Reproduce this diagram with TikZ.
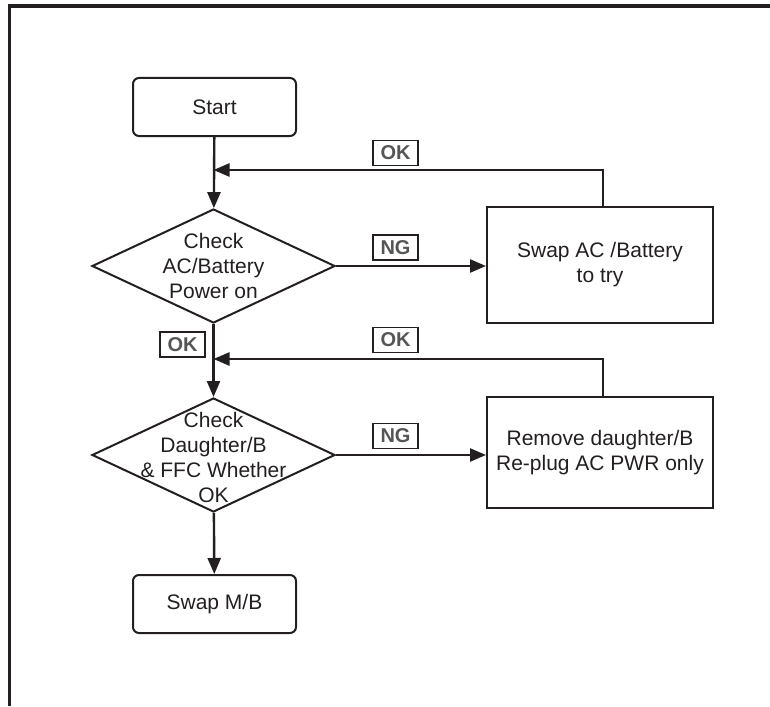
\documentclass[tikz,border=0pt]{standalone}
\usepackage{fontspec}
\setmainfont{Liberation Sans}
\usetikzlibrary{shapes.geometric,arrows.meta}

\definecolor{ink}{HTML}{231F20}
\definecolor{tagtext}{HTML}{555555}

\begin{document}
\begin{tikzpicture}[x=1pt, y=-1pt,
  every node/.style={font=\fontsize{21}{25}\selectfont, text=ink},
  term/.style={draw=ink, line width=2pt, rounded corners=6pt, minimum width=163pt, minimum height=58pt},
  proc/.style={draw=ink, line width=2pt, minimum width=226pt, align=center},
  decide/.style={diamond, draw=ink, line width=2pt, minimum width=243pt, minimum height=114pt, inner sep=0pt},
  tag/.style={draw=ink, line width=1.8pt, inner sep=0pt, minimum width=45pt, minimum height=25pt, font=\fontsize{20}{20}\selectfont\bfseries, text=tagtext},
  flow/.style={draw=ink, line width=2.4pt, -{Triangle[length=16pt,width=13pt]}}]

\useasboundingbox (0,0) rectangle (770,706);

% page frame
\draw [line width=3.5pt, ink] (9.5,706) -- (9.5,6) -- (770,6);

\node[term] (start) at (214.5,107) {Start};

\node[decide, label={[align=center]center:Check\\AC/Battery\\Power on}] (chkpwr) at (213.5,266) {};
\node[proc, minimum height=116pt] (swapac) at (600,265) {Swap AC /Battery\\to try};

\node[decide, label={[align=center, yshift=-2.5pt]center:Check\\Daughter/B\\\& FFC Whether\\OK}] (chkdb) at (213.5,455) {};
\node[proc, minimum height=111pt] (rmdb) at (600,452.5) {Remove daughter/B\\Re-plug AC PWR only};

\node[term] (swapmb) at (214.5,604) {Swap M/B};

\coordinate (j1) at (213.5,170);
\coordinate (j2) at (213.5,359);

\draw[flow] (start) -- (chkpwr);
\draw[flow] (chkpwr) -- (chkdb);
\draw[flow] (chkdb) -- (swapmb);
\draw[flow] (chkpwr.east) -- (chkpwr.east -| swapac.west);
\draw[flow] (chkdb.east) -- (chkdb.east -| rmdb.west);
\draw[flow] (swapac.north -| 603,0) |- (j1);
\draw[flow] (rmdb.north -| 603,0) |- (j2);

\node[tag] (okpwr) at (395.5,153) {OK};
\node[tag] (ngpwr) at (395.5,247.5) {NG};
\node[tag] (okdown) at (182.5,344.5) {OK};
\node[tag] (okdb) at (395.5,340) {OK};
\node[tag] (ngdb) at (395.5,436) {NG};

\end{tikzpicture}
\end{document}
